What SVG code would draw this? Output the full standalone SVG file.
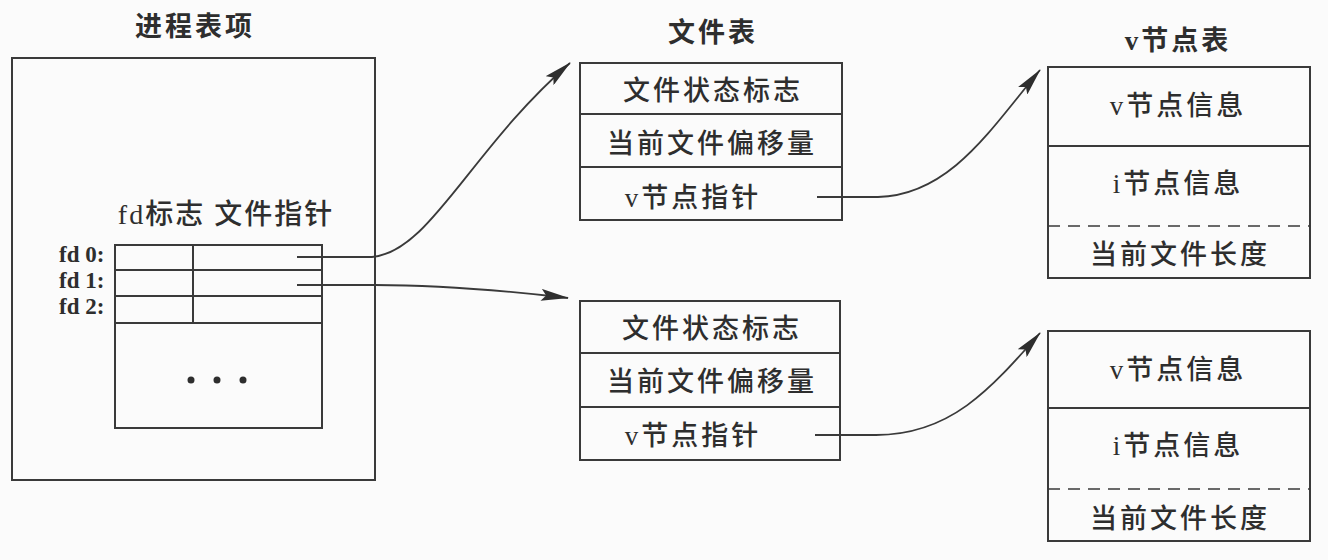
<svg xmlns="http://www.w3.org/2000/svg" width="1328" height="560" viewBox="0 0 1328 560">
<style>
.box{fill:none;stroke:#3a3a3a;stroke-width:2}
.ln{stroke:#3a3a3a;stroke-width:2;fill:none}
.dash{stroke:#3a3a3a;stroke-width:1.6;stroke-dasharray:12 8;fill:none}
.t{font-family:"Liberation Serif","Noto Sans CJK SC",serif;font-size:27px;fill:#2e2e2e;text-anchor:middle;letter-spacing:3px;font-weight:500}
.h{font-weight:bold}
.fd{font-family:"Liberation Serif",serif;font-size:23px;fill:#2e2e2e;font-weight:bold}
.conn{stroke:#3a3a3a;stroke-width:1.8;fill:none;marker-end:url(#ah)}
</style>
<defs>
<marker id="ah" viewBox="0 0 28 12" refX="27" refY="6" markerWidth="28" markerHeight="12" markerUnits="userSpaceOnUse" orient="auto">
<path d="M0,0 L28,6 L0,12 L5,6 Z" fill="#2e2e2e"/>
</marker>
</defs>
<rect width="1328" height="560" fill="#fbfbfb"/>

<g id="process-entry">
<text class="t h" x="195" y="36">进程表项</text>
<rect class="box" x="12" y="58" width="363" height="422"/>
<text class="t" x="226" y="224" style="letter-spacing:2px;font-size:28px">fd标志 文件指针</text>
<text class="fd" x="59" y="262">fd 0:</text>
<text class="fd" x="59" y="288">fd 1:</text>
<text class="fd" x="59" y="314">fd 2:</text>
<rect class="box" x="115" y="245" width="207" height="183"/>
<line class="ln" x1="115" y1="270" x2="322" y2="270"/>
<line class="ln" x1="115" y1="296" x2="322" y2="296"/>
<line class="ln" x1="115" y1="323" x2="322" y2="323"/>
<line class="ln" x1="193" y1="245" x2="193" y2="323"/>
<circle cx="191" cy="380" r="3.5" fill="#2e2e2e"/>
<circle cx="217" cy="380" r="3.5" fill="#2e2e2e"/>
<circle cx="243" cy="380" r="3.5" fill="#2e2e2e"/>
</g>

<g id="file-table-1">
<text class="t h" x="713" y="42">文件表</text>
<rect class="box" x="580" y="63" width="262" height="157"/>
<line class="ln" x1="580" y1="114" x2="842" y2="114"/>
<line class="ln" x1="580" y1="167" x2="842" y2="167"/>
<text class="t" x="713" y="100">文件状态标志</text>
<text class="t" x="712" y="153">当前文件偏移量</text>
<text class="t" x="693" y="207">v节点指针</text>
</g>

<g id="file-table-2">
<rect class="box" x="580" y="301" width="260" height="159"/>
<line class="ln" x1="580" y1="353" x2="840" y2="353"/>
<line class="ln" x1="580" y1="407" x2="840" y2="407"/>
<text class="t" x="712" y="338">文件状态标志</text>
<text class="t" x="712" y="391">当前文件偏移量</text>
<text class="t" x="693" y="445">v节点指针</text>
</g>

<g id="vnode-table-1">
<text class="t h" x="1178" y="50">v节点表</text>
<rect class="box" x="1048" y="67" width="262" height="211"/>
<line class="ln" x1="1048" y1="146" x2="1310" y2="146"/>
<line class="dash" x1="1048" y1="226" x2="1310" y2="226"/>
<text class="t" x="1178" y="115">v节点信息</text>
<text class="t" x="1178" y="193">i节点信息</text>
<text class="t" x="1180" y="264">当前文件长度</text>
</g>

<g id="vnode-table-2">
<rect class="box" x="1048" y="331" width="262" height="210"/>
<line class="ln" x1="1048" y1="408" x2="1310" y2="408"/>
<line class="dash" x1="1048" y1="489" x2="1310" y2="489"/>
<text class="t" x="1178" y="379">v节点信息</text>
<text class="t" x="1178" y="455">i节点信息</text>
<text class="t" x="1180" y="528">当前文件长度</text>
</g>

<g id="connectors">
<path class="conn" d="M297,257 L372,257 C430,252 470,150 570,63"/>
<path class="conn" d="M297,285 L375,285 C440,285 500,290 568,298"/>
<path class="conn" d="M817,197 L878,197 C950,195 990,130 1040,70"/>
<path class="conn" d="M815,435 L876,435 C950,435 990,390 1040,333"/>
</g>
</svg>
